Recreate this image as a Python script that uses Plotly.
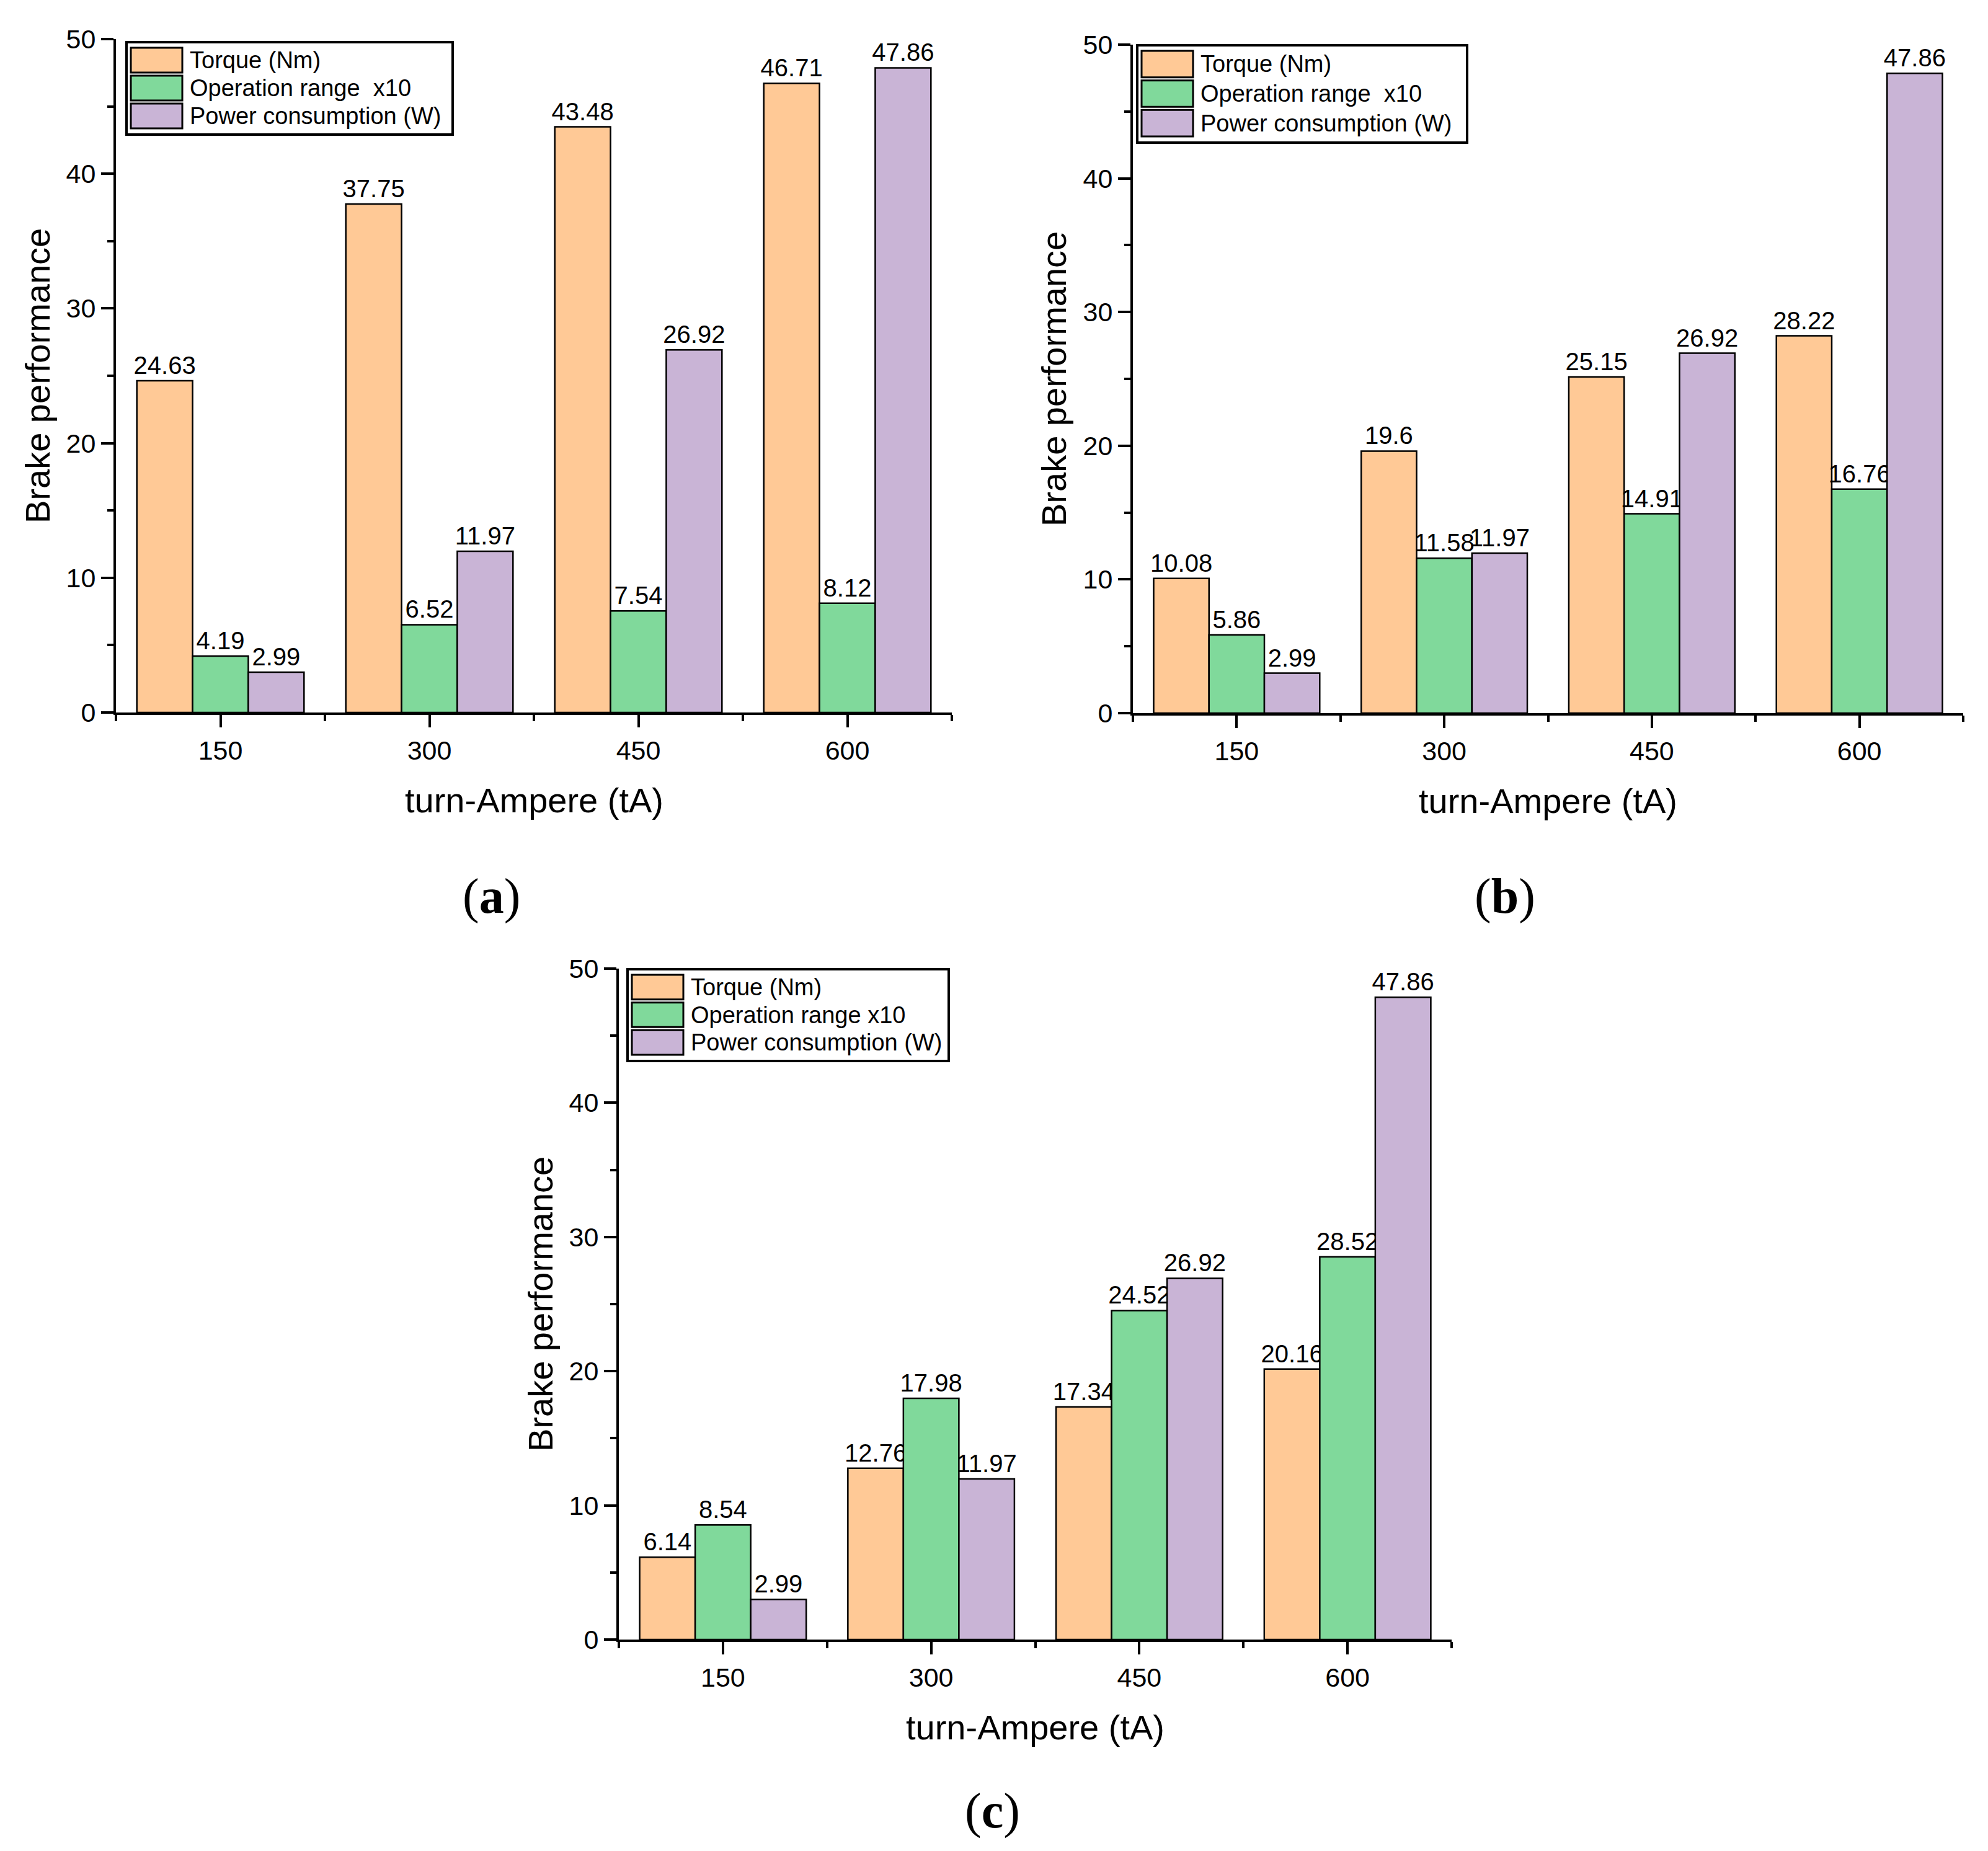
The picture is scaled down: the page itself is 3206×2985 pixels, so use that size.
import plotly.graph_objects as go

W, H = 3206, 2985

categories = ["150", "300", "450", "600"]
series_names_ab = ["Torque (Nm)", "Operation range\u00a0 x10", "Power consumption (W)"]
series_names_c = ["Torque (Nm)", "Operation range x10", "Power consumption (W)"]
colors = ["rgb(255,201,150)", "rgb(128,217,155)", "rgb(201,180,214)"]

torque_a = [24.63, 37.75, 43.48, 46.71]
range_a = [4.19, 6.52, 7.54, 8.12]
power_a = [2.99, 11.97, 26.92, 47.86]

torque_b = [10.08, 19.6, 25.15, 28.22]
range_b = [5.86, 11.58, 14.91, 16.76]
power_b = [2.99, 11.97, 26.92, 47.86]

torque_c = [6.14, 12.76, 17.34, 20.16]
range_c = [8.54, 17.98, 24.52, 28.52]
power_c = [2.99, 11.97, 26.92, 47.86]

y_ticks = [0, 10, 20, 30, 40, 50]
x_title = "turn-Ampere (tA)"
y_title = "Brake performance"

FONT = "Liberation Sans, Arial, sans-serif"


def px(x):
    return x / W


def py(y):
    return 1 - y / H


# panel geometry in pixels: (left, right, top, bottom)
panels = [
    dict(name="a", box=(187, 1535, 63, 1149), data=[torque_a, range_a, power_a],
         names=series_names_ab, legend=(204, 730, 68, 217), label_xy=(792, 1445)),
    dict(name="b", box=(1827, 3166, 72, 1150), data=[torque_b, range_b, power_b],
         names=series_names_ab, legend=(1834, 2366, 73, 230), label_xy=(2427, 1445)),
    dict(name="c", box=(998, 2341, 1562, 2644), data=[torque_c, range_c, power_c],
         names=series_names_c, legend=(1012, 1530, 1563, 1711), label_xy=(1600, 2920)),
]

fig = go.Figure()
shapes = []
annotations = []
xpos = list(range(len(categories)))

for i, p in enumerate(panels):
    sfx = "" if i == 0 else str(i + 1)
    l, r, t, b = p["box"]
    for k, vals in enumerate(p["data"]):
        fig.add_trace(go.Bar(
            x=xpos, y=vals, name=p["names"][k],
            xaxis="x" + sfx, yaxis="y" + sfx,
            marker=dict(color=colors[k], line=dict(color="black", width=2.5)),
            text=[f"{v:g}" for v in vals], textposition="outside",
            textfont=dict(family=FONT, size=40, color="black"),
            constraintext="none", cliponaxis=False, showlegend=False,
        ))
    xa = dict(
        domain=[px(l), px(r)], anchor="y" + sfx, range=[-0.5, len(categories) - 0.5],
        automargin=False,
        tickmode="array", tickvals=xpos, ticktext=categories,
        ticks="outside", ticklen=20, tickwidth=4, tickcolor="black",
        showline=True, linewidth=4, linecolor="black", showgrid=False, zeroline=False,
        tickfont=dict(family=FONT, size=43, color="black"),
        minor=dict(tickmode="array", tickvals=[v - 0.5 for v in xpos] + [len(categories) - 0.5],
                   ticks="outside", ticklen=10, tickwidth=4, tickcolor="black", showgrid=False),
        fixedrange=True,
    )
    ya = dict(
        domain=[py(b), py(t)], anchor="x" + sfx, range=[0, 50],
        automargin=False,
        tickmode="array", tickvals=y_ticks,
        ticks="outside", ticklen=20, tickwidth=4, tickcolor="black",
        showline=True, linewidth=4, linecolor="black", showgrid=False, zeroline=False,
        tickfont=dict(family=FONT, size=43, color="black"),
        minor=dict(tickmode="linear", tick0=5, dtick=10, ticks="outside", ticklen=10,
                   tickwidth=4, tickcolor="black", showgrid=False),
        fixedrange=True,
    )
    fig.update_layout(**{"xaxis" + sfx: xa, "yaxis" + sfx: ya})

    # axis titles
    annotations.append(dict(x=px((l + r) / 2), y=py(b + 141), xref="paper", yref="paper",
                            text=x_title, showarrow=False, xanchor="center", yanchor="middle",
                            font=dict(family=FONT, size=56, color="black")))
    annotations.append(dict(x=px(l - 127), y=py((t + b) / 2), xref="paper", yref="paper",
                            text=y_title, showarrow=False, textangle=-90,
                            xanchor="center", yanchor="middle",
                            font=dict(family=FONT, size=56, color="black")))
    # panel label
    lx, ly = p["label_xy"]
    annotations.append(dict(x=px(lx), y=py(ly), xref="paper", yref="paper",
                            text="(<b>" + p["name"] + "</b>)", showarrow=False,
                            xanchor="center", yanchor="middle",
                            font=dict(family="Liberation Serif, Times New Roman, serif",
                                      size=80, color="black")))
    # legend box
    gl, gr, gt, gb = p["legend"]
    shapes.append(dict(type="rect", xref="paper", yref="paper",
                       x0=px(gl), x1=px(gr), y0=py(gb), y1=py(gt),
                       line=dict(color="black", width=4), fillcolor="white", layer="above"))
    row_h = (gb - gt - 14) / 3
    for k in range(3):
        y0 = gt + 7 + k * row_h + 2
        y1 = y0 + row_h - 5
        shapes.append(dict(type="rect", xref="paper", yref="paper",
                           x0=px(gl + 7), x1=px(gl + 90), y0=py(y1), y1=py(y0),
                           line=dict(color="black", width=3), fillcolor=colors[k], layer="above"))
        annotations.append(dict(x=px(gl + 100), y=py((y0 + y1) / 2), xref="paper", yref="paper",
                                text=p["names"][k], showarrow=False, xanchor="left",
                                yanchor="middle",
                                font=dict(family=FONT, size=38, color="black")))

fig.update_layout(
    template="none",
    width=W, height=H, margin=dict(l=0, r=0, t=0, b=0, pad=0, autoexpand=False),
    paper_bgcolor="white", plot_bgcolor="white",
    barmode="group", bargap=0.2, bargroupgap=0,
    showlegend=False, shapes=shapes, annotations=annotations,
)

post = (
    "document.documentElement.style.margin='0';"
    "document.documentElement.style.overflow='hidden';"
    "document.body.style.margin='0';document.body.style.padding='0';"
    "document.body.style.overflow='hidden';"
    "var gd=document.getElementById('{plot_id}');"
    "gd.style.position='absolute';gd.style.left='0px';gd.style.top='0px';"
)

fig.write_html("out.html", post_script=post, config={"displayModeBar": False})
